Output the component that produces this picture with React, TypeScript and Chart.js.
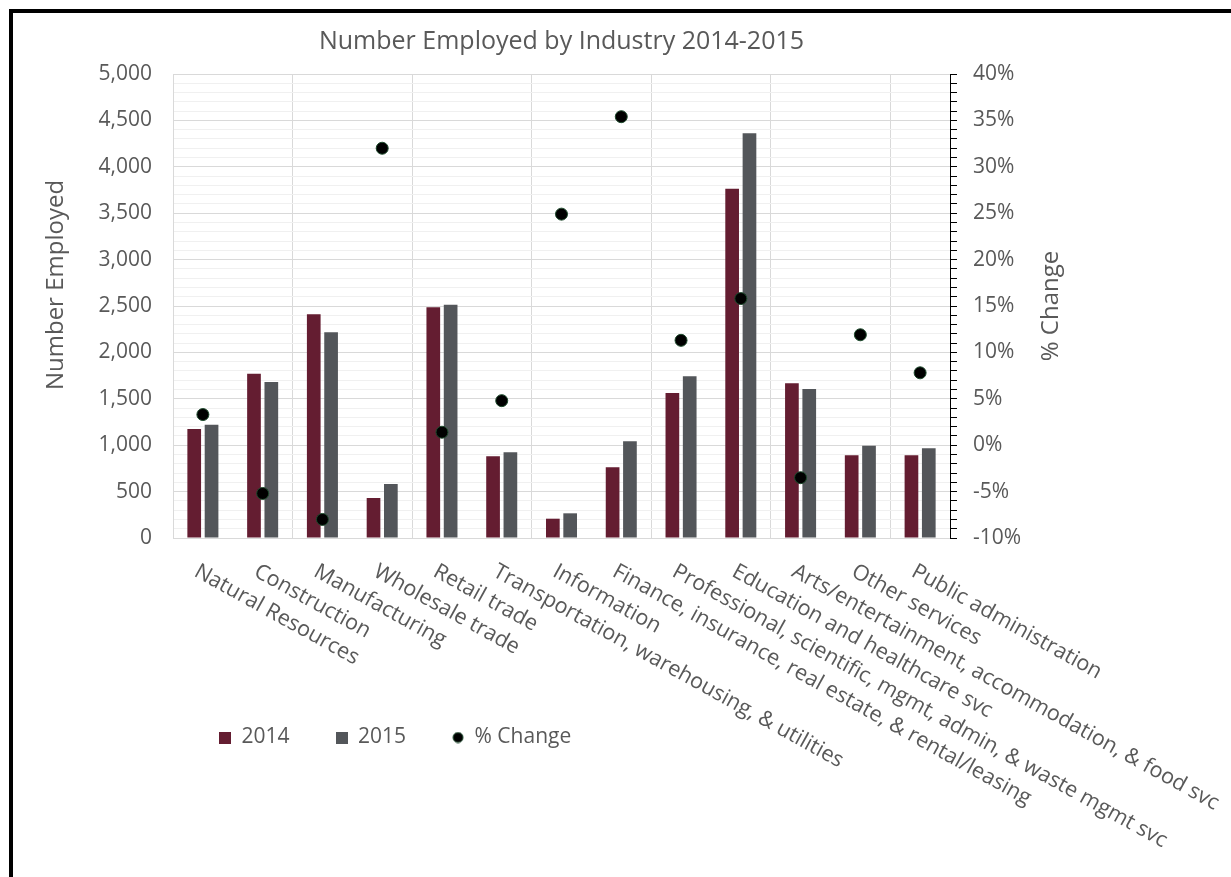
import React, { useEffect, useRef } from 'react';
import { Chart, registerables } from 'chart.js';

Chart.register(...registerables);

const categories = [
  'Natural Resources',
  'Construction',
  'Manufacturing',
  'Wholesale trade',
  'Retail trade',
  'Transportation, warehousing, & utilities',
  'Information',
  'Finance, insurance, real estate, & rental/leasing',
  'Professional, scientific, mgmt, admin, & waste mgmt svc',
  'Education and healthcare svc',
  'Arts/entertainment, accommodation, & food svc',
  'Other services',
  'Public administration',
];
const employed2014 = [1175, 1771, 2410, 431, 2486, 880, 208, 762, 1562, 3764, 1667, 891, 891];
const employed2015 = [1221, 1681, 2216, 582, 2514, 923, 266, 1042, 1742, 4361, 1606, 995, 966];
const pctChange = [3.3, -5.2, -8.0, 32.0, 1.4, 4.8, 24.9, 35.4, 11.3, 15.8, -3.5, 11.9, 7.8];

const seriesLabels = ['2014', '2015', '% Change'];
const chartTitle = 'Number Employed by Industry 2014-2015';
const leftAxisTitle = 'Number Employed';
const rightAxisTitle = '% Change';
const leftMin = 0;
const leftMax = 5000;
const leftMajor = 500;
const leftMinor = 100;
const rightMin = -10;
const rightMax = 40;
const rightMajor = 5;
const rightMinor = 1;

const FONT = "'Open Sans', sans-serif";
const TEXT = '#595959';
const GRID = '#d9d9d9';
const MINOR = '#f0f0f0';
const C2014 = '#641d31';
const C2015 = '#53565a';
const CDOT = '#000000';
const CDOT_BORDER = '#1d4a2c';

function makeMarker(kind: string, fill: string, stroke: string) {
  const c = document.createElement('canvas');
  c.width = 12;
  c.height = 12;
  const g = c.getContext('2d')!;
  if (kind === 'rect') {
    g.fillStyle = fill;
    g.fillRect(0, 0, 12, 12);
  } else {
    g.beginPath();
    g.arc(6, 6, 5, 0, Math.PI * 2);
    g.fillStyle = fill;
    g.fill();
    g.lineWidth = 1;
    g.strokeStyle = stroke;
    g.stroke();
  }
  return c;
}

const textPlugin = {
  id: 'customText',
  afterDraw(chart: any) {
    const { ctx, chartArea, scales } = chart;
    const xs = scales.x;
    ctx.save();
    ctx.fillStyle = TEXT;
    ctx.font = `21.6px ${FONT}`;
    ctx.textAlign = 'left';
    ctx.textBaseline = 'middle';
    categories.forEach((c, i) => {
      const px = xs.getPixelForValue(i) - 7;
      const py = chartArea.bottom + 32;
      ctx.save();
      ctx.translate(px, py);
      ctx.rotate((29 * Math.PI) / 180);
      ctx.fillText(c, 0, 0);
      ctx.restore();
    });
    ctx.font = `24px ${FONT}`;
    ctx.textAlign = 'center';
    const cy = (chartArea.top + chartArea.bottom) / 2;
    ctx.save();
    ctx.translate(chartArea.left - 117, cy - 21);
    ctx.rotate(-Math.PI / 2);
    ctx.fillText(leftAxisTitle, 0, 0);
    ctx.restore();
    ctx.save();
    ctx.translate(chartArea.right + 101, cy);
    ctx.rotate(-Math.PI / 2);
    ctx.fillText(rightAxisTitle, 0, 0);
    ctx.restore();
    ctx.restore();
  },
};

export default function App() {
  const ref = useRef<HTMLCanvasElement | null>(null);

  useEffect(() => {
    if (!ref.current) return;
    const markers = [
      makeMarker('rect', C2014, C2014),
      makeMarker('rect', C2015, C2015),
      makeMarker('circle', CDOT, CDOT_BORDER),
    ];
    const chart = new Chart(ref.current, {
      type: 'bar',
      data: {
        labels: categories,
        datasets: [
          {
            type: 'line',
            label: seriesLabels[2],
            data: pctChange,
            yAxisID: 'y1',
            showLine: false,
            pointRadius: 6,
            pointBackgroundColor: CDOT,
            pointBorderColor: CDOT_BORDER,
            pointBorderWidth: 1,
            order: 0,
          } as any,
          {
            label: seriesLabels[0],
            data: employed2014,
            backgroundColor: C2014,
            borderWidth: 0,
            categoryPercentage: 0.58,
            barPercentage: 0.79,
            yAxisID: 'y',
            order: 1,
          },
          {
            label: seriesLabels[1],
            data: employed2015,
            backgroundColor: C2015,
            borderWidth: 0,
            categoryPercentage: 0.58,
            barPercentage: 0.79,
            yAxisID: 'y',
            order: 1,
          },
        ],
      },
      options: {
        responsive: false,
        animation: false,
        events: [],
        layout: { padding: { left: 0, right: 0, top: 0, bottom: 119 } },
        scales: {
          x: {
            offset: true,
            grid: {
              offset: true,
              drawTicks: false,
              color: (ctx: any) => (ctx.index % 2 === 0 ? GRID : 'rgba(0,0,0,0)'),
            },
            border: { color: GRID },
            ticks: { display: false },
            afterFit: (s: any) => {
              s.height = 143;
            },
          },
          y: {
            position: 'left',
            min: leftMin,
            max: leftMax,
            ticks: {
              stepSize: leftMinor,
              autoSkip: false,
              padding: 21,
              color: TEXT,
              font: { family: FONT, size: 21 },
              callback: (v: any) => (v % leftMajor === 0 ? Number(v).toLocaleString('en-US') : ''),
            },
            grid: {
              drawTicks: false,
              color: (ctx: any) => (ctx.tick && ctx.tick.value % leftMajor === 0 ? GRID : MINOR),
            },
            border: { color: GRID },
            afterFit: (s: any) => {
              s.width = 160;
            },
          },
          y1: {
            position: 'right',
            min: rightMin,
            max: rightMax,
            ticks: {
              stepSize: rightMinor,
              autoSkip: false,
              padding: 16,
              color: TEXT,
              font: { family: FONT, size: 21 },
              callback: (v: any) => (v % rightMajor === 0 ? `${v}%` : ''),
            },
            grid: {
              drawOnChartArea: false,
              drawTicks: true,
              tickLength: 7,
              color: '#000000',
            },
            border: { color: '#000000', width: 1 },
            afterFit: (s: any) => {
              s.width = 281;
            },
          },
        },
        plugins: {
          tooltip: { enabled: false },
          title: {
            display: true,
            text: chartTitle,
            color: TEXT,
            fullSize: false,
            font: { family: FONT, size: 25, weight: 'normal' },
            padding: { top: 14, bottom: 17 },
          },
          legend: {
            display: true,
            position: 'bottom',
            align: 'start',
            fullSize: false,
            labels: {
              usePointStyle: true,
              boxWidth: 12,
              boxHeight: 12,
              padding: 46,
              color: TEXT,
              font: { family: FONT, size: 21 },
              generateLabels: () =>
                seriesLabels.map((t, i) => ({
                  text: t,
                  fillStyle: [C2014, C2015, CDOT][i],
                  strokeStyle: [C2014, C2015, CDOT_BORDER][i],
                  lineWidth: 0,
                  pointStyle: markers[i],
                  hidden: false,
                  datasetIndex: i,
                  fontColor: TEXT,
                })),
            },
          },
        },
      },
      plugins: [textPlugin],
    } as any);
    return () => chart.destroy();
  }, []);

  return (
    <div
      style={{
        position: 'fixed',
        left: 9,
        top: 9,
        width: 1300,
        height: 1000,
        border: '4px solid #000',
        background: '#fff',
      }}
    >
      <canvas ref={ref} width={1218} height={864} style={{ display: 'block' }} />
    </div>
  );
}
